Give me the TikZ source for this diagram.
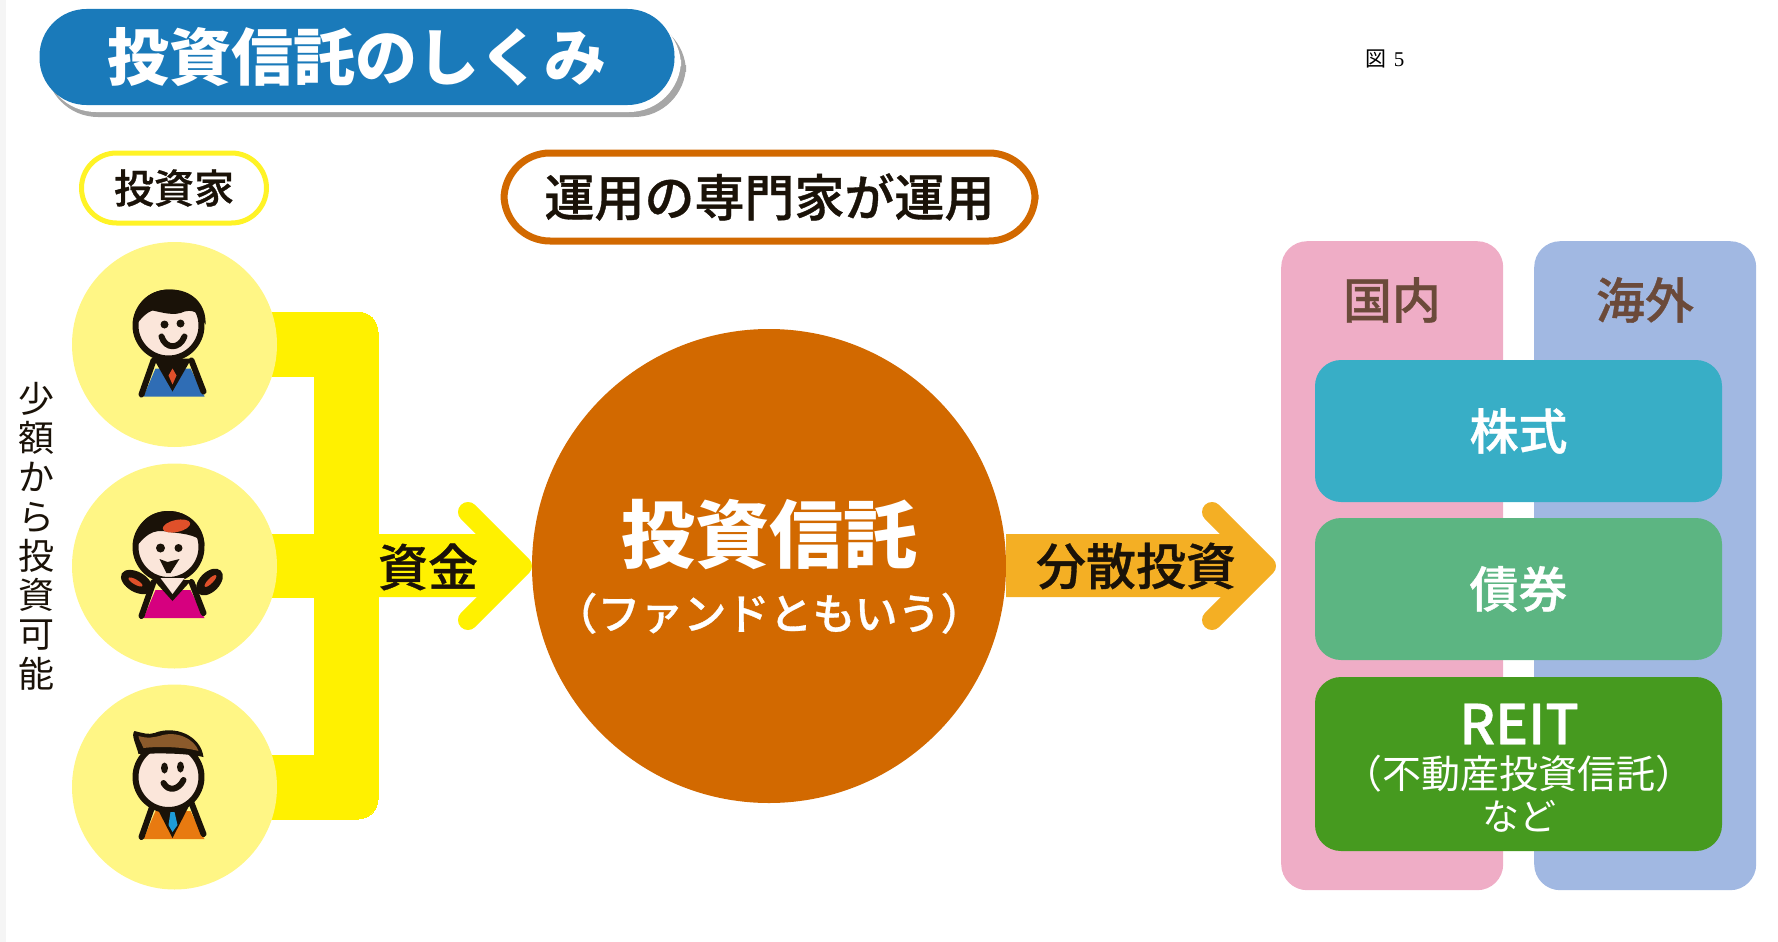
\documentclass[tikz,border=0pt]{standalone}
\usepackage{fontspec}
\setmainfont{Noto Sans CJK JP}
\newfontfamily\latinserif{Liberation Serif}
\newfontfamily\mediumcjk[FakeBold=0.7]{Noto Sans CJK JP Medium}
\usetikzlibrary{positioning}
\definecolor{titleblue}{HTML}{1A7ABA}
\definecolor{fundyellow}{HTML}{FFF100}
\definecolor{paleyellow}{HTML}{FFF685}
\definecolor{fundorange}{HTML}{D26900}
\definecolor{spreadorange}{HTML}{F4AF24}
\definecolor{panelpink}{HTML}{EFADC6}
\definecolor{panelblue}{HTML}{A1B8E2}
\definecolor{boxteal}{HTML}{38AEC6}
\definecolor{boxgreen}{HTML}{5CB582}
\definecolor{boxdark}{HTML}{469A1F}
\definecolor{panelbrown}{HTML}{6B4A3A}
\definecolor{skintone}{HTML}{FBE6DA}
\definecolor{softink}{HTML}{1A1208}
\definecolor{hairbrown}{HTML}{8B5A2B}
\definecolor{suitblue}{HTML}{2F6DB5}
\definecolor{suitorange}{HTML}{E87A10}
\definecolor{dressred}{HTML}{D6007F}
\definecolor{tiered}{HTML}{E0502A}
\definecolor{tieblue}{HTML}{1E9BD7}
\tikzset{
  pxfont/.style={font=\fontsize{#1}{#1}\selectfont},
  medfont/.style={font=\fontsize{#1}{#1}\selectfont\mediumcjk},
  investor/.style={circle,fill=paleyellow,minimum size=205pt,inner sep=0pt},
  panel/.style={rounded corners=26pt,minimum width=222pt,minimum height=649pt,inner sep=0pt},
  assetbox/.style={rounded corners=26pt,minimum width=407pt,inner sep=0pt,text=white},
  inkline/.style={draw=softink,line width=6pt,line cap=round,line join=round},
}
% head and jacket shared by the three investors
\newcommand{\personbase}[4]{%
  \fill[#1] (-31,52)--(-19,24)--(16,24)--(30,52)--cycle;
  \draw[inkline] (-21,16)--(-33,50) (17,16)--(29,47);
  \fill[#2] (-21,14)--(17,14)--(-2,#3)--cycle;
  \draw[inkline,fill=skintone] (-6,#4) circle (33);
}
\begin{document}
\begin{tikzpicture}[x=1pt,y=-1pt]
  \useasboundingbox (0,0) rectangle (1778,942);
  \fill[black!4] (0,0) rectangle (6,942);
  % title
  \fill[black!35,rounded corners=52pt] (46,20) rectangle (686,117);
  \fill[white,rounded corners=52pt] (44,14) rectangle (681,112);
  \node[fill=titleblue,rounded corners=47pt,minimum width=635pt,minimum height=96pt,inner sep=0pt,text=white,pxfont=62] (title) at (357,57) {\bfseries 投資信託のしくみ};
  \node[pxfont=21] (figno) at (1385,59) {図{\latinserif\,\,5}};
  % investors
  \draw[fundyellow,line width=0pt,fill=fundyellow] (250,312)--(358,312) arc (-90:0:20)--(378,799) arc (0:90:20)--(250,819)--(250,755)--(314,755)--(314,597)--(250,597)--(250,534)--(314,534)--(314,376)--(250,376)--cycle;
  \node[investor] (inv1) at (174.5,344.5) {};
  \node[investor] (inv2) at (174.5,566) {};
  \node[investor] (inv3) at (174.5,787) {};
  \node[draw=fundyellow!85!white,line width=5pt,fill=white,rounded corners=35pt,minimum width=185pt,minimum height=70pt,inner sep=0pt,text=softink,medfont=40] (investorlabel) at (174,188) {投資家};
  \node[align=center,text=softink,font=\fontsize{36}{39.3}\selectfont,inner sep=0pt] (smallsum) at (36,536) {少\\額\\か\\ら\\投\\資\\可\\能};
  \begin{scope}[shift={(inv1.center)}]
    \personbase{suitblue}{softink}{47}{-19}
    \fill[tiered] (-2,24)--(2,31)--(-2,40)--(-6,31)--cycle;
    \fill[softink] (-40,-17) .. controls (-40,-46) and (-22,-55) .. (-4,-55) .. controls (18,-55) and (32,-40) .. (31,-20) .. controls (26,-28) and (22,-36) .. (10,-33) .. controls (0,-28) and (-12,-32) .. (-22,-34) .. controls (-28,-32) and (-34,-26) .. (-40,-17)--cycle;
    \fill[softink] (-10,-20) circle (4) (6,-21) circle (4);
    \draw[inkline] (-13,-8) .. controls (-9,5) and (5,5) .. (10,-8);
  \end{scope}
  \begin{scope}[shift={(inv2.center)}]
    \fill[softink] (-38,16) ellipse [x radius=17,y radius=10,rotate=-30];
    \fill[softink] (35,16) ellipse [x radius=16,y radius=10,rotate=45];
    \fill[tiered] (-39,16) ellipse [x radius=8,y radius=2.5,rotate=-30];
    \fill[tiered] (36,15) ellipse [x radius=8,y radius=2.5,rotate=45];
    \personbase{dressred}{softink}{35}{-19}
    \fill[skintone] (-14,12)--(10,12)--(-2,28)--cycle;
    \fill[softink] (-40,-17) .. controls (-40,-46) and (-22,-55) .. (-6,-55) .. controls (14,-55) and (30,-40) .. (30,-20) .. controls (26,-30) and (14,-32) .. (-6,-34) .. controls (-22,-38) and (-30,-30) .. (-40,-17)--cycle;
    \fill[tiered] (2,-40) ellipse [x radius=14,y radius=6,rotate=12];
    \fill[softink] (-14,-18) circle (4.5) (4,-18) circle (4);
    \fill[softink] (-15,-7)--(-7,-4)--(5,-7)--(-4,7)--(-8,7)--cycle;
  \end{scope}
  \begin{scope}[shift={(inv3.center)}]
    \personbase{suitorange}{softink}{51}{-10}
    \fill[tieblue] (-4,25)--(0,25)--(3,38)--(-2,45)--(-6,38)--cycle;
    \fill[softink] (-36,-33) .. controls (-38,-42) and (-44,-52) .. (-40,-56) .. controls (-32,-54) and (-26,-52) .. (-20,-54) .. controls (0,-62) and (26,-52) .. (29,-30) .. controls (10,-34) and (-15,-34) .. (-36,-33)--cycle;
    \fill[hairbrown] (-31,-39) .. controls (-33,-44) and (-36,-48) .. (-36,-51) .. controls (-26,-48) and (-20,-50) .. (-15,-51) .. controls (2,-57) and (20,-48) .. (24,-36) .. controls (10,-40) and (-15,-41) .. (-31,-39)--cycle;
    \fill[softink] (-10,-19) ellipse [x radius=3.5,y radius=5.5] (6,-20) ellipse [x radius=3.5,y radius=5.5];
    \draw[inkline] (-11,-4) .. controls (-6,5) and (4,3) .. (9,-7);
  \end{scope}
  % funds arrow
  \fill[fundyellow] (370,534)--(495,534)--(522,566)--(495,597)--(370,597)--cycle;
  \draw[fundyellow,line width=20pt,line join=round,line cap=round] (468,512)--(522,566)--(468,620);
  \node[text=softink,medfont=50,inner sep=0pt] (funds) at (428,567) {資金};
  % fund
  \node[circle,fill=fundorange,minimum size=474pt,inner sep=0pt] (fund) at (769,566) {};
  \node[text=white,pxfont=74,inner sep=0pt] (fundname) at (769,535) {\bfseries 投資信託};
  \node[text=white,medfont=43,below=22pt of fundname,inner sep=0pt] (fundnote) {（ファンドともいう）};
  \node[draw=fundorange,line width=7pt,fill=white,rounded corners=46pt,minimum width=531pt,minimum height=88pt,inner sep=0pt,text=softink,medfont=50] (managerlabel) at (769.5,197) {運用の専門家が運用};
  % diversified arrow
  \fill[spreadorange] (1006,534)--(1239,534)--(1266,566)--(1239,597)--(1006,597)--cycle;
  \draw[spreadorange,line width=20pt,line join=round,line cap=round] (1212,512)--(1266,566)--(1212,620);
  \node[text=softink,medfont=50,inner sep=0pt] (spread) at (1136,566) {分散投資};
  % panels
  \node[panel,fill=panelpink,anchor=north west] (domestic) at (1281,241) {};
  \node[panel,fill=panelblue,anchor=north west] (overseas) at (1534,241) {};
  \node[text=panelbrown,medfont=49,inner sep=0pt] (domesticlabel) at (1392,300) {国内};
  \node[text=panelbrown,medfont=49,inner sep=0pt] (overseaslabel) at (1645,300) {海外};
  \node[assetbox,fill=boxteal,minimum height=142pt,medfont=49] (stocks) at (1518.5,431) {株式};
  \node[assetbox,fill=boxgreen,minimum height=142pt,medfont=49] (bonds) at (1518.5,589) {債券};
  \node[assetbox,fill=boxdark,minimum height=174pt] (reit) at (1518.5,764) {};
  \node[text=white,medfont=55,inner sep=0pt] (reitname) at (1519,724) {REIT};
  \node[text=white,pxfont=39,inner sep=0pt] (reitnote) at (1519,774) {（不動産投資信託）};
  \node[text=white,pxfont=37,inner sep=0pt] (reitetc) at (1519,816) {など};
\end{tikzpicture}
\end{document}
